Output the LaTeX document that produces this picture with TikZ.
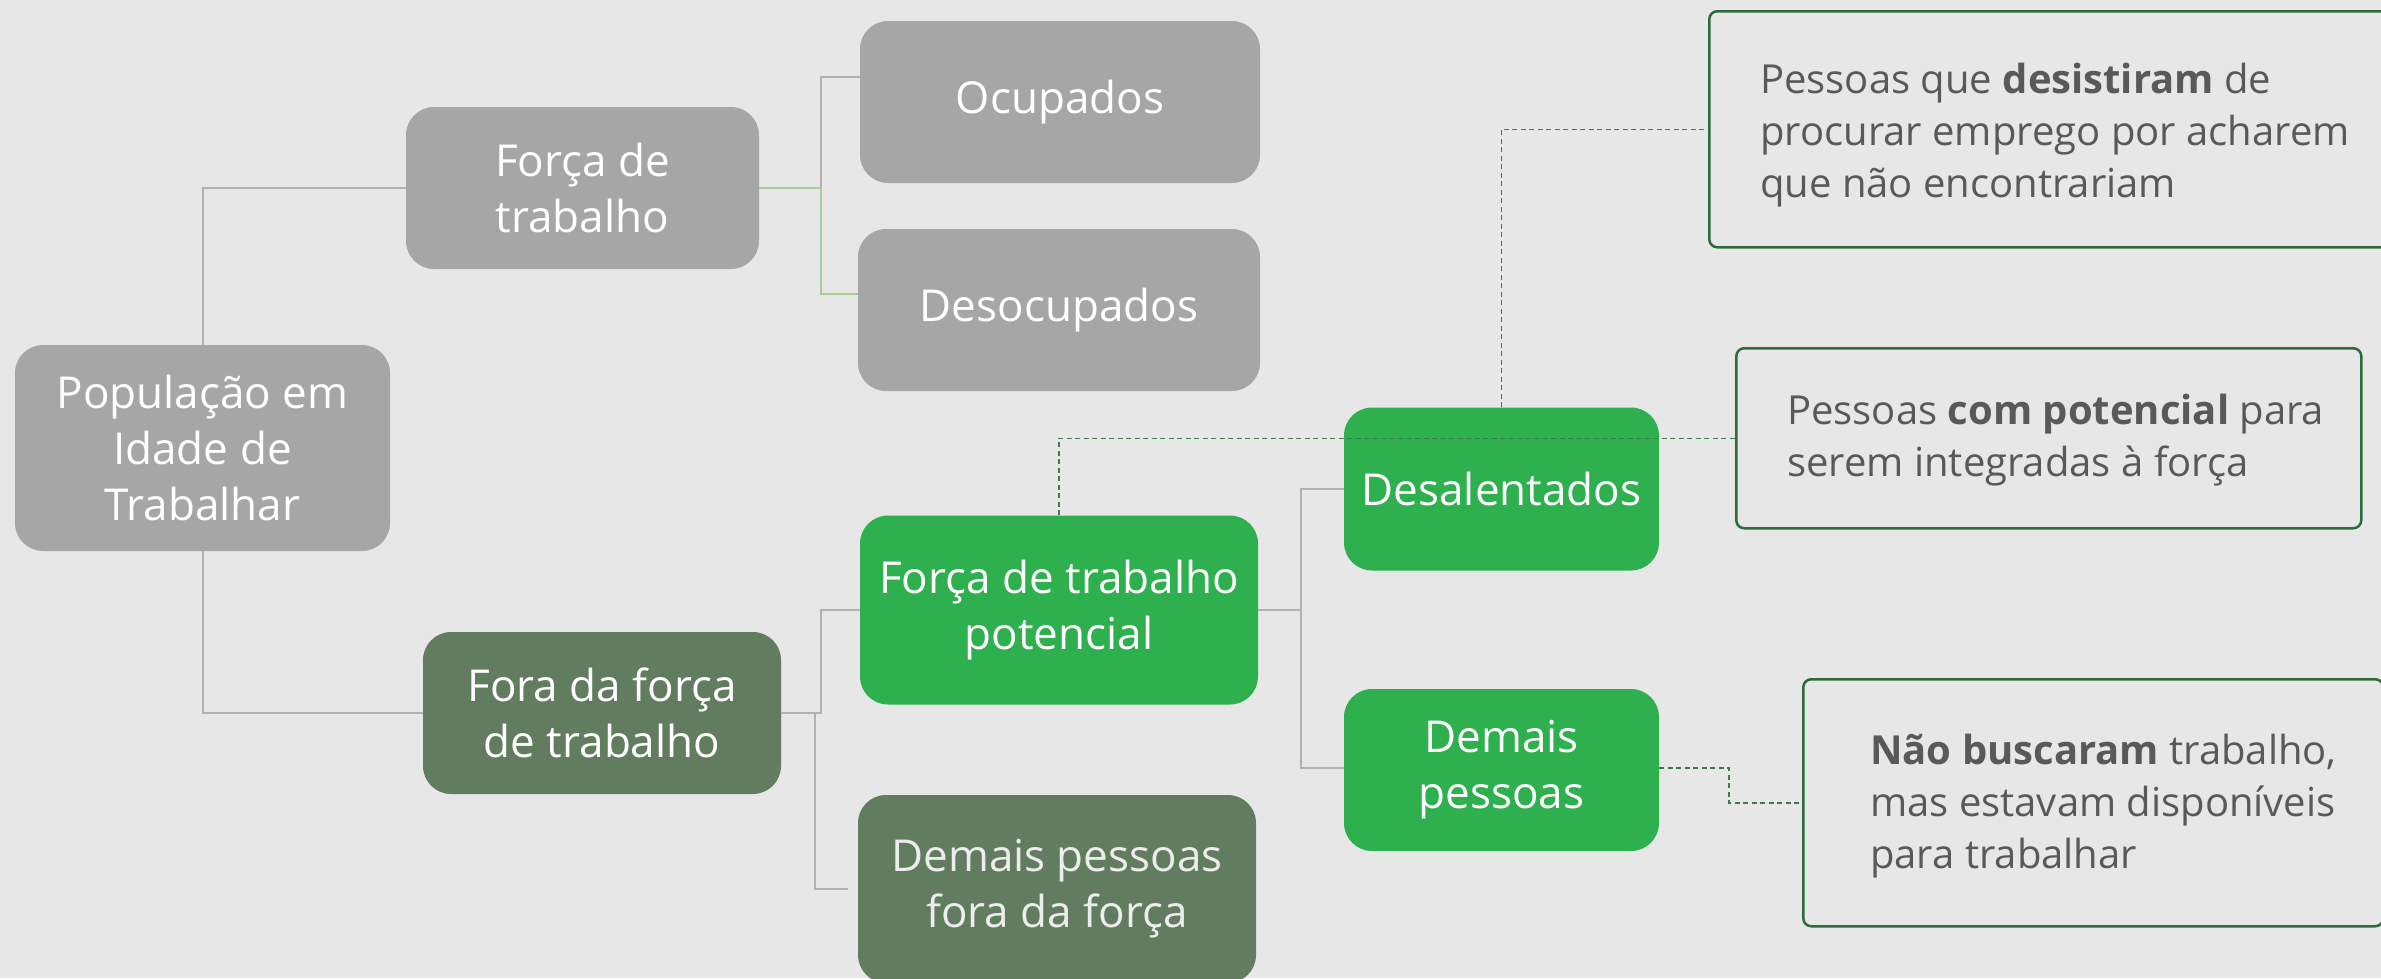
\documentclass[tikz,border=0pt]{standalone}
\usepackage{fontspec}
\setmainfont{Open Sans}
\usetikzlibrary{calc}
\definecolor{bg}{HTML}{E7E7E7}
\definecolor{boxgray}{HTML}{A6A6A6}
\definecolor{darkgreen}{HTML}{627C5F}
\definecolor{brightgreen}{HTML}{2DB04D}
\definecolor{notegreen}{HTML}{2E6B3C}
\definecolor{linegray}{HTML}{B2B0B0}
\definecolor{linegreen}{HTML}{A9CD90}
\definecolor{dashgreen}{HTML}{3E7A4E}
\definecolor{notetext}{HTML}{595959}
\definecolor{offwhite}{HTML}{EDEDED}
\begin{document}
\begin{tikzpicture}[x=1pt,y=-1pt,
  mainbox/.style={rounded corners=28pt, inner sep=0pt, align=center, text=white,
    font=\fontsize{44}{56}\selectfont},
  graybox/.style={mainbox, fill=boxgray},
  dgbox/.style={mainbox, fill=darkgreen},
  bgbox/.style={mainbox, fill=brightgreen},
  notebox/.style={draw=notegreen, line width=2.5pt, rounded corners=8pt, inner sep=0pt, anchor=north west},
  notetxt/.style={anchor=west, align=left, inner sep=0pt, text=notetext,
    font=\fontsize{40}{52}\selectfont},
  gline/.style={draw=linegray, line width=2pt},
  grline/.style={draw=linegreen, line width=2pt},
  dline/.style={draw=dashgreen, line width=1.5pt, dash pattern=on 5pt off 3.5pt}
]
\useasboundingbox (0,0) rectangle (2381,978);
\fill[bg] (0,0) rectangle (2381,978);

% main boxes
\node[graybox, minimum width=375pt, minimum height=206pt] (pop) at (202.5,448) {População em\\Idade de\\Trabalhar};
\node[graybox, minimum width=353pt, minimum height=162pt] (ft) at (582.5,188) {Força de\\trabalho};
\node[graybox, minimum width=400pt, minimum height=162pt] (ocup) at (1060,102) {Ocupados};
\node[graybox, minimum width=402pt, minimum height=162pt] (desoc) at (1059,310) {Desocupados};
\node[dgbox, minimum width=358pt, minimum height=162pt] (fora) at (602,713) {Fora da força\\de trabalho};
\node[bgbox, minimum width=398pt, minimum height=189pt] (ftp) at (1059,610) {Força de trabalho\\potencial};
\node[dgbox, minimum width=398pt, minimum height=188pt, text=offwhite] (dfora) at (1057,889) {Demais pessoas\\fora da força};
\node[bgbox, minimum width=315pt, minimum height=163pt] (desal) at (1501.5,489) {Desalentados};
\node[bgbox, minimum width=315pt, minimum height=162pt] (dpess) at (1501.5,770) {Demais\\pessoas};

% note boxes
\node[notebox, minimum width=700pt, minimum height=236pt] (note1) at (1708,10) {};
\node[notebox, minimum width=625pt, minimum height=180pt] (note2) at (1735,347) {};
\node[notebox, minimum width=580pt, minimum height=247pt] (note3) at (1802,678) {};
\node[notetxt] (t1) at (1760,135) {Pessoas que \textbf{desistiram} de\\procurar emprego por acharem\\que não encontrariam};
\node[notetxt] (t2) at (1787,440) {Pessoas \textbf{com potencial} para\\serem integradas à força};
\node[notetxt] (t3) at (1870,806) {\textbf{Não buscaram} trabalho,\\mas estavam disponíveis\\para trabalhar};

% tree connectors
\draw[gline] (pop.north) |- (ft.west);
\draw[gline] (pop.south) |- (fora.west);
\draw[gline] ($(ft.east)+(62,0)$) |- ($(ocup.west)+(0,-25)$);
\draw[grline] (ft.east) -- ++(62,0) |- ($(desoc.west)+(0,-16)$);
\draw[gline] (fora.east) -- ++(40,0) |- (ftp.west);
\draw[gline] ($(fora.east)+(34,0)$) |- ($(dfora.west)+(-10,0)$);
\draw[gline] (ftp.east) -- ++(43,0) |- (desal.west);
\draw[gline] (ftp.east) -- ++(43,0) |- ($(dpess.west)+(0,-2)$);

% dashed note connectors
\draw[dline] (desal.north) |- (note1.west);
\draw[dline] (ftp.north) |- (note2.west);
\draw[dline] ($(dpess.east)+(0,-2)$) -- ++(70,0) |- (note3.west);
\end{tikzpicture}
\end{document}
